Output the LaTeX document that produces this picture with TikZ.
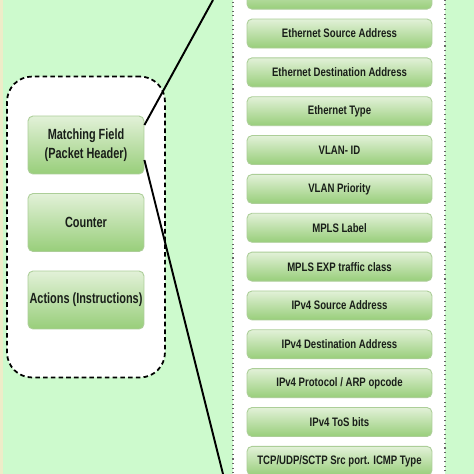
\documentclass[tikz,border=0pt]{standalone}
\usepackage{fontspec}
\newfontfamily\fieldfont[FakeStretch=0.78]{Liberation Sans}
\newfontfamily\partfont[FakeStretch=0.74]{Liberation Sans}
\definecolor{bggreen}{RGB}{205,250,205}
\definecolor{edgebeige}{RGB}{238,236,200}
\definecolor{boxtop}{RGB}{226,241,216}
\definecolor{boxbot}{RGB}{152,206,122}
\definecolor{boxline}{RGB}{172,206,152}
\definecolor{inktext}{RGB}{25,30,25}
\begin{document}
\begin{tikzpicture}
  [x=0.02cm,y=-0.02cm,
   greenbox/.style={rectangle,rounded corners=0.1cm,draw=boxline,line width=0.5pt,
     top color=boxtop,bottom color=boxbot,inner sep=0pt,align=center,text=inktext},
   fieldbox/.style={greenbox,minimum width=3.7cm,minimum height=0.58cm,
     font=\fieldfont\bfseries\fontsize{7}{8}\selectfont},
   partbox/.style={greenbox,minimum width=2.32cm,minimum height=1.16cm,
     font=\partfont\bfseries\fontsize{8.4}{10.8}\selectfont},
   link/.style={black,line width=1.1pt}]
    \useasboundingbox (0,0) rectangle (474,474);
    \clip (0,0) rectangle (474,474);
    \fill[bggreen] (0,0) rectangle (474,474);
    \fill[edgebeige] (0,0) rectangle (3,474);

    % the two panels
    \node (tbl) [rectangle,rounded corners=0.5cm,draw=black,fill=white,line width=1pt,
      dash pattern=on 2.6pt off 1.8pt,minimum width=3.16cm,minimum height=6.02cm] at (86,227) {};
    \node (hdr) [rectangle,draw=black!60,fill=white,line width=0.6pt,dotted,
      minimum width=4.24cm,minimum height=10.4cm] at (339,237) {};

    \node (mf)  [partbox] at (86,145)   {Matching Field\\(Packet Header)};
    \node (cnt) [partbox] at (86,222.5) {Counter};
    \node (act) [partbox] at (86,300)   {Actions (Instructions)};

    \coordinate (up) at (213,0);
    \coordinate (down) at (223,474);
    \draw[link] ([yshift=0.4cm]mf.east) -- (up);
    \draw[link] ([yshift=-0.3cm]mf.east) -- (down);

    \node (f0)  [fieldbox] at (339.5,-5.35)  {};
    \node (f1)  [fieldbox] at (339.5,33.5)   {Ethernet Source Address};
    \node (f2)  [fieldbox] at (339.5,72.35)  {Ethernet Destination Address};
    \node (f3)  [fieldbox] at (339.5,111.2)  {Ethernet Type};
    \node (f4)  [fieldbox] at (339.5,150.05) {VLAN- ID};
    \node (f5)  [fieldbox] at (339.5,188.9)  {VLAN Priority};
    \node (f6)  [fieldbox] at (339.5,227.75) {MPLS Label};
    \node (f7)  [fieldbox] at (339.5,266.6)  {MPLS EXP traffic class};
    \node (f8)  [fieldbox] at (339.5,305.45) {IPv4 Source Address};
    \node (f9)  [fieldbox] at (339.5,344.3)  {IPv4 Destination Address};
    \node (f10) [fieldbox] at (339.5,383.15) {IPv4 Protocol / ARP opcode};
    \node (f11) [fieldbox] at (339.5,422)    {IPv4 ToS bits};
    \node (f12) [fieldbox] at (339.5,460.85) {TCP/UDP/SCTP Src port. ICMP Type};
  \end{tikzpicture}
\end{document}
